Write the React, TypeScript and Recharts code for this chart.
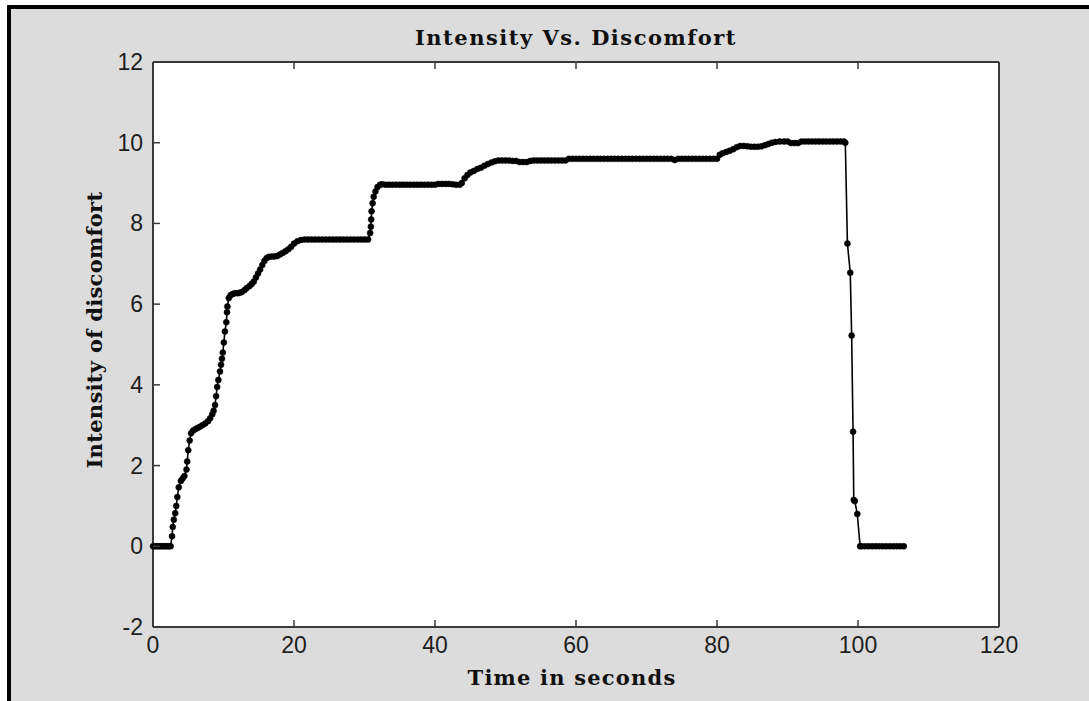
import { LineChart, Line, XAxis, YAxis } from "recharts";

const timeSec = [
  0, 0.25, 0.5, 0.75, 1, 1.25, 1.5, 1.75, 2, 2.25, 2.5,
  2.7, 2.8, 2.95, 3.15, 3.3, 3.45, 3.65, 3.95, 4.2, 4.45, 4.75, 4.85, 5.0, 5.2, 5.4,
  5.7, 6.0, 6.3, 6.65, 7.0, 7.4, 7.8, 8.1, 8.4, 8.6, 8.8, 8.95, 9.1, 9.27, 9.5,
  9.65, 9.78, 9.9, 10.05, 10.2, 10.4, 10.5, 10.55, 10.75, 11.0, 11.3, 11.6, 12.0,
  12.3, 12.6, 13.0, 13.3, 13.7, 14.0, 14.3, 14.6, 14.9, 15.2, 15.5, 15.8, 16.1,
  16.4, 16.8, 17.2, 17.6, 18.0, 18.4, 18.8, 19.2, 19.6, 20.0, 20.5, 21.0,
  21.5, 22, 22.5, 23, 23.5, 24, 24.5, 25, 25.5, 26, 26.5, 27, 27.5, 28, 28.5, 29,
  29.5, 30, 30.5,
  30.8, 30.9, 30.95, 31.0, 31.15, 31.3, 31.55, 31.85, 32.2, 32.5,
  33, 33.5, 34, 34.5, 35, 35.5, 36, 36.5, 37, 37.5, 38, 38.5, 39, 39.5, 40, 40.5,
  41, 41.5, 42, 42.5, 43, 43.5,
  43.8, 44.2, 44.6, 45.0, 45.5, 46.0, 46.5, 47.0, 47.5, 48.0, 48.5, 49.0,
  49.5, 50, 50.5, 51, 51.5, 52, 52.5, 53, 53.5, 54, 54.5, 55, 55.5, 56, 56.5, 57,
  57.5, 58, 58.5,
  59, 59.5, 60, 60.5, 61, 61.5, 62, 62.5, 63, 63.5, 64, 64.5, 65, 65.5, 66, 66.5,
  67, 67.5, 68, 68.5, 69, 69.5, 70, 70.5, 71, 71.5, 72, 72.5, 73, 73.5, 74, 74.5,
  75, 75.5, 76, 76.5, 77, 77.5, 78, 78.5, 79, 79.5, 80,
  80.4, 80.8, 81.3, 81.8, 82.3, 82.8, 83.3, 83.8, 84.3, 84.8, 85.3, 85.8, 86.3,
  86.8, 87.3, 87.8, 88.3, 88.9,
  89.5, 90, 90.5, 91, 91.5, 92, 92.5, 93, 93.5, 94, 94.5, 95, 95.5, 96, 96.5, 97,
  97.5, 98,
  98.2, 98.5, 98.9, 99.1, 99.3, 99.4, 99.55, 99.9, 100.3,
  100.5, 101, 101.5, 102, 102.5, 103, 103.5, 104, 104.5, 105, 105.5, 106, 106.5,
];

const intensity = [
  0, 0, 0, 0, 0, 0, 0, 0, 0, 0, 0,
  0.25, 0.48, 0.66, 0.82, 1.0, 1.22, 1.46, 1.62, 1.68, 1.74, 1.9, 2.1, 2.38, 2.62, 2.8,
  2.87, 2.9, 2.93, 2.96, 3.0, 3.04, 3.1, 3.17, 3.27, 3.36, 3.5, 3.72, 3.95, 4.12, 4.33,
  4.5, 4.65, 4.8, 5.05, 5.32, 5.55, 5.8, 5.94, 6.15, 6.22, 6.25, 6.27, 6.27,
  6.28, 6.3, 6.35, 6.4, 6.45, 6.5, 6.56, 6.66, 6.76, 6.86, 6.97, 7.07, 7.14,
  7.17, 7.18, 7.18, 7.19, 7.23, 7.27, 7.31, 7.36, 7.42, 7.5, 7.56, 7.59,
  7.6, 7.6, 7.6, 7.6, 7.6, 7.6, 7.6, 7.6, 7.6, 7.6, 7.6, 7.6, 7.6, 7.6, 7.6, 7.6,
  7.6, 7.6, 7.6,
  7.76, 7.92, 8.1, 8.3, 8.5, 8.66, 8.79, 8.9, 8.96, 8.97,
  8.96, 8.96, 8.96, 8.96, 8.96, 8.96, 8.96, 8.96, 8.96, 8.96, 8.96, 8.96, 8.96,
  8.96, 8.96, 8.98, 8.98, 8.98, 8.98, 8.97, 8.96, 8.96,
  9.0, 9.12, 9.2, 9.26, 9.3, 9.35, 9.38, 9.43, 9.47, 9.51, 9.54, 9.56,
  9.56, 9.56, 9.56, 9.55, 9.55, 9.52, 9.52, 9.52, 9.55, 9.56, 9.56, 9.56, 9.56,
  9.56, 9.56, 9.56, 9.56, 9.56, 9.56,
  9.6, 9.6, 9.6, 9.6, 9.6, 9.6, 9.6, 9.6, 9.6, 9.6, 9.6, 9.6, 9.6, 9.6, 9.6, 9.6,
  9.6, 9.6, 9.6, 9.6, 9.6, 9.6, 9.6, 9.6, 9.6, 9.6, 9.6, 9.6, 9.6, 9.6, 9.57, 9.6,
  9.6, 9.6, 9.6, 9.6, 9.6, 9.6, 9.6, 9.6, 9.6, 9.6, 9.6,
  9.7, 9.74, 9.77, 9.8, 9.84, 9.89, 9.92, 9.92, 9.91, 9.9, 9.9, 9.9, 9.91,
  9.94, 9.97, 10.0, 10.02, 10.03,
  10.03, 10.03, 9.99, 9.99, 9.99, 10.03, 10.03, 10.03, 10.03, 10.03, 10.03, 10.03,
  10.03, 10.03, 10.03, 10.03, 10.03, 10.03,
  10.0, 7.5, 6.78, 5.22, 2.84, 1.15, 1.12, 0.8, 0,
  0, 0, 0, 0, 0, 0, 0, 0, 0, 0, 0, 0, 0,
];

const xTicks = [0, 20, 40, 60, 80, 100, 120];
const yTicks = [-2, 0, 2, 4, 6, 8, 10, 12];

const data = timeSec.map((t, i) => ({ t, v: intensity[i] }));

const tickFont = "'Liberation Sans', Arial, sans-serif";
const labelFont = "'DejaVu Serif', serif";
const frame = "#3a3a3a";

const BottomTick = (props: any) => {
  const { x, y, payload } = props;
  return (
    <g>
      <line x1={x} x2={x} y1={y} y2={y - 7} stroke={frame} strokeWidth={1.5} />
      <text x={x} y={y + 26} textAnchor="middle" fontSize={23} fontFamily={tickFont} fill="#1e1e1e">
        {payload.value}
      </text>
    </g>
  );
};

const LeftTick = (props: any) => {
  const { x, y, payload } = props;
  return (
    <g>
      <line x1={x} x2={x + 7} y1={y} y2={y} stroke={frame} strokeWidth={1.5} />
      <text x={x - 10} y={y + 8} textAnchor="end" fontSize={23} fontFamily={tickFont} fill="#1e1e1e">
        {payload.value}
      </text>
    </g>
  );
};

const TopTick = (props: any) => {
  const { x, y } = props;
  return <line x1={x} x2={x} y1={y} y2={y + 7} stroke={frame} strokeWidth={1.5} />;
};

const RightTick = (props: any) => {
  const { x, y } = props;
  return <line x1={x} x2={x - 7} y1={y} y2={y} stroke={frame} strokeWidth={1.5} />;
};

export default function App() {
  return (
    <div style={{ position: "absolute", left: 0, top: 0, width: 1089, height: 701, background: "#fff", overflow: "hidden" }}>
      <div
        style={{
          position: "absolute",
          left: 7,
          top: 5,
          width: 1082,
          height: 696,
          background: "#dcdcdc",
          borderTop: "4px solid #000",
          borderLeft: "4px solid #000",
          boxSizing: "border-box",
        }}
      />
      <div style={{ position: "absolute", left: 0, top: 0 }}>
        <LineChart
          width={1089}
          height={701}
          data={data}
          margin={{ top: 61, right: 89, bottom: 73, left: 152 }}
        >
          <rect x={153} y={62} width={846} height={565} fill="#fff" />
          <XAxis
            xAxisId="b"
            dataKey="t"
            type="number"
            domain={[0, 120]}
            ticks={xTicks}
            orientation="bottom"
            height={1}
            tickSize={0}
            tickMargin={0}
            axisLine={{ stroke: frame, strokeWidth: 2 }}
            tickLine={false}
            tick={<BottomTick />}
            interval={0}
          />
          <XAxis
            xAxisId="t"
            dataKey="t"
            type="number"
            domain={[0, 120]}
            ticks={xTicks}
            orientation="top"
            height={1}
            tickSize={0}
            tickMargin={0}
            axisLine={{ stroke: frame, strokeWidth: 2 }}
            tickLine={false}
            tick={<TopTick />}
            interval={0}
          />
          <YAxis
            yAxisId="l"
            type="number"
            domain={[-2, 12]}
            ticks={yTicks}
            orientation="left"
            width={1}
            tickSize={0}
            tickMargin={0}
            axisLine={{ stroke: frame, strokeWidth: 2 }}
            tickLine={false}
            tick={<LeftTick />}
            interval={0}
          />
          <YAxis
            yAxisId="r"
            type="number"
            domain={[-2, 12]}
            ticks={yTicks}
            orientation="right"
            width={1}
            tickSize={0}
            tickMargin={0}
            axisLine={{ stroke: frame, strokeWidth: 2 }}
            tickLine={false}
            tick={<RightTick />}
            interval={0}
          />
          <Line
            xAxisId="b"
            yAxisId="l"
            dataKey="v"
            type="linear"
            stroke="#000"
            strokeWidth={1.6}
            dot={{ r: 3, fill: "#000", stroke: "#000", strokeWidth: 0.5 }}
            activeDot={false}
            isAnimationActive={false}
          />
          <text x={576} y={45} textAnchor="middle" fontSize={21} fontWeight="bold" fontFamily={labelFont} letterSpacing={1.5} fill="#111">
            Intensity Vs. Discomfort
          </text>
          <text x={572} y={685} textAnchor="middle" fontSize={21} fontWeight="bold" fontFamily={labelFont} letterSpacing={1.2} fill="#111">
            Time in seconds
          </text>
          <text
            x={0}
            y={0}
            transform="translate(102 330) rotate(-90)"
            textAnchor="middle"
            fontSize={21}
            fontWeight="bold"
            fontFamily={labelFont}
            letterSpacing={0.3}
            fill="#111"
          >
            Intensity of discomfort
          </text>
        </LineChart>
      </div>
    </div>
  );
}
